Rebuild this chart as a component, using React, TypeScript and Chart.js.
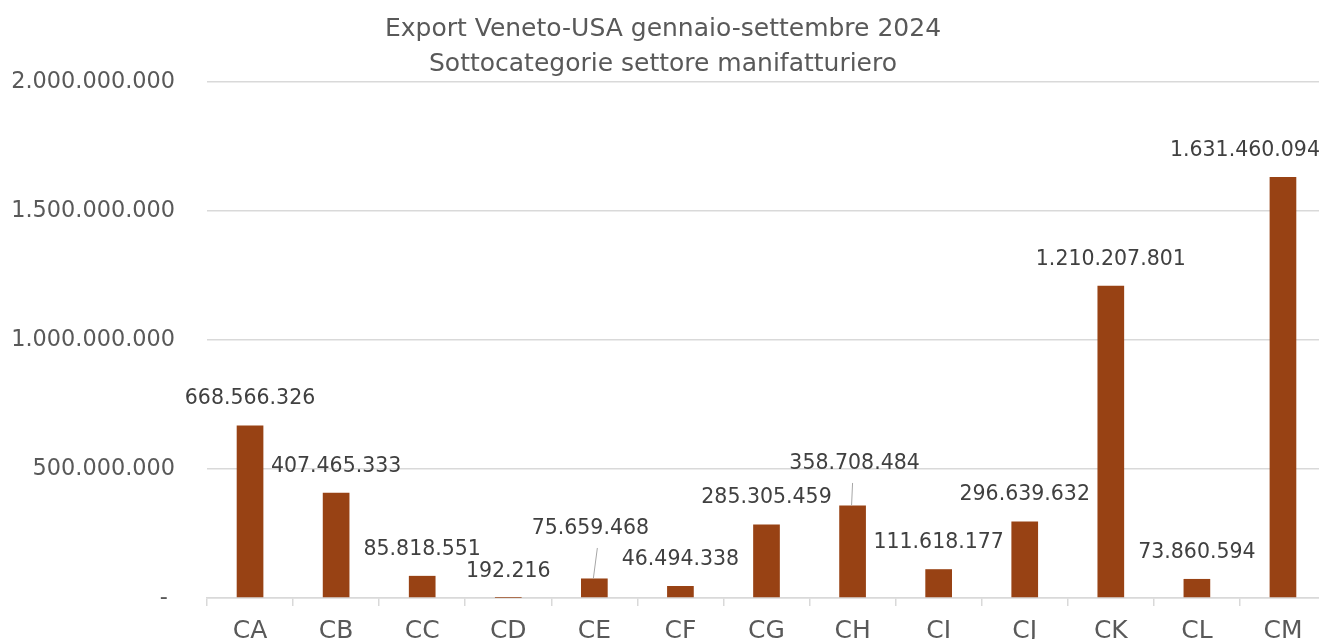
import React, { useEffect, useRef } from "react";
import { Chart, registerables } from "chart.js";

Chart.register(...registerables);

const titleLines = [
  "Export Veneto-USA gennaio-settembre 2024",
  "Sottocategorie settore manifatturiero",
];
const categories = ["CA", "CB", "CC", "CD", "CE", "CF", "CG", "CH", "CI", "CJ", "CK", "CL", "CM"];
const exportValues = [
  668566326, 407465333, 85818551, 192216, 75659468, 46494338, 285305459,
  358708484, 111618177, 296639632, 1210207801, 73860594, 1631460094,
];
const yTickValues = [0, 500000000, 1000000000, 1500000000, 2000000000];

// label placement tweaks (pixels) for the data labels
const labelDx = [0, 0, 0, 0, -4, 0, 0, 2, 0, 0, 0, 0, -38];
const labelDy = [0, 0, 0, 0, -23, 0, 0, -15, 0, 0, 0, 0, 0];
const hasLeader = [false, false, false, false, true, false, false, true, false, false, false, false, false];

const FONT = "'DejaVu Sans', sans-serif";
const BAR_COLOR = "#984214";
const GRID = "#d9d9d9";

function fmt(v: number): string {
  if (v === 0) return "- ";
  return String(Math.round(v)).replace(/\B(?=(\d{3})+(?!\d))/g, ".");
}

const labelPlugin = {
  id: "barLabels",
  afterDatasetsDraw(chart: any) {
    const ctx = chart.ctx;
    const meta = chart.getDatasetMeta(0);
    ctx.save();
    ctx.font = `20.5px ${FONT}`;
    ctx.fillStyle = "#404040";
    ctx.textAlign = "center";
    ctx.textBaseline = "middle";
    meta.data.forEach((bar: any, i: number) => {
      const lx = bar.x + labelDx[i];
      const ly = bar.y - 26.5 + labelDy[i];
      if (hasLeader[i]) {
        ctx.save();
        ctx.strokeStyle = "#a6a6a6";
        ctx.lineWidth = 1;
        ctx.beginPath();
        ctx.moveTo(bar.x - 1, bar.y);
        ctx.lineTo(bar.x + (labelDx[i] < 0 ? 3 : 0), ly + 19);
        ctx.stroke();
        ctx.restore();
      }
      ctx.fillText(fmt(exportValues[i]), lx, ly);
    });
    ctx.restore();
  },
};

export default function App() {
  const ref = useRef<HTMLCanvasElement | null>(null);

  useEffect(() => {
    document.body.style.overflow = "hidden";
    const canvas = ref.current;
    if (!canvas) return;
    const chart = new Chart(canvas, {
      type: "bar",
      data: {
        labels: categories,
        datasets: [
          {
            data: exportValues,
            backgroundColor: BAR_COLOR,
            borderWidth: 0,
            barPercentage: 0.31,
            categoryPercentage: 1,
          },
        ],
      },
      options: {
        responsive: false,
        animation: false,
        layout: { padding: { left: 0, right: 14, top: 0, bottom: 0 } },
        plugins: {
          legend: { display: false },
          tooltip: { enabled: false },
          title: {
            display: true,
            text: titleLines,
            color: "#595959",
            font: { family: FONT, size: 25, weight: "normal", lineHeight: 1.4 },
            padding: { top: 12, bottom: 0 },
          },
        },
        scales: {
          x: {
            type: "category",
            offset: true,
            grid: {
              offset: true,
              drawOnChartArea: false,
              drawTicks: true,
              tickLength: 8,
              tickColor: GRID,
              lineWidth: 1.5,
            },
            border: { display: true, color: GRID, width: 1.5 },
            ticks: {
              color: "#595959",
              font: { family: FONT, size: 25 },
              padding: 10,
              maxRotation: 0,
              autoSkip: false,
            },
            afterFit(scale: any) {
              scale.height = 62;
            },
          },
          y: {
            min: 0,
            max: 2000000000,
            afterBuildTicks(scale: any) {
              scale.ticks = yTickValues.map((v) => ({ value: v }));
            },
            grid: { color: GRID, lineWidth: 1.5, drawTicks: false },
            border: { display: false },
            ticks: {
              color: "#595959",
              font: { family: FONT, size: 22.4 },
              padding: 32,
              callback: (v: any) => fmt(Number(v)),
            },
            afterFit(scale: any) {
              scale.width = 207;
            },
          },
        },
      },
      plugins: [labelPlugin],
    });
    return () => chart.destroy();
  }, []);

  return (
    <div style={{ position: "fixed", left: 0, top: 0, width: 1340, height: 660, background: "#fff" }}>
      <canvas ref={ref} width={1340} height={660} style={{ display: "block" }} />
    </div>
  );
}
